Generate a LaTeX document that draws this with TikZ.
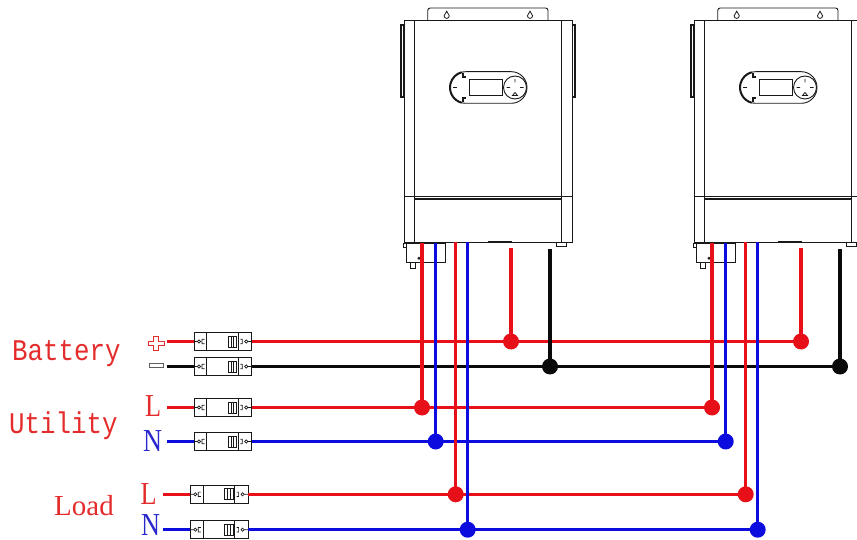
\documentclass[tikz,border=0pt]{standalone}
\usepackage{fontspec}
\setmainfont{Liberation Serif}
\newfontfamily\monolabel[FakeStretch=0.86]{Liberation Mono}
\newfontfamily\narrowserif[FakeStretch=0.82]{Liberation Serif}
\usetikzlibrary{calc}
\definecolor{wred}{RGB}{232,16,24}
\definecolor{wblue}{RGB}{12,12,222}
\definecolor{wblack}{RGB}{10,10,10}
\definecolor{tred}{RGB}{228,44,44}
\definecolor{tblue}{RGB}{40,40,205}
\definecolor{outline}{RGB}{25,25,25}

\tikzset{
  part/.style={draw=outline, line width=0.9pt},
  wire/.style={line width=3.3pt},
  joint/.style={circle, inner sep=0pt, minimum size=16pt},
  brk/.style={part, rectangle, fill=white, minimum width=57.4pt, minimum height=18pt, inner sep=0pt},
  sidelabel/.style={inner sep=0pt, anchor=base west, font=\monolabel\fontsize{30}{34}\selectfont, text=tred},
  letter/.style={inner sep=0pt, anchor=base west, font=\narrowserif\fontsize{32}{36}\selectfont},
  % circuit breaker: box, two terminals and the switch grille
  breaker/.pic={
    \node[brk] (-box) at (0,0) {};
    \draw[part] (-16.3,-9) -- (-16.3,9) (15.3,-9) -- (15.3,9);
    \draw[part, line width=0.7pt] (-28.7,0) -- (-25.6,0) (-24,0) circle (1.6)
      (-18.5,-2.2) -- (-21,-2.2) -- (-21,2.2) -- (-18.5,2.2);
    \draw[part, line width=0.7pt] (17.3,-2.2) -- (19.3,-2.2) -- (19.3,2.2) -- (17.3,2.2)
      (23.3,0) circle (1.6) (24.9,0) -- (28.7,0);
    \draw[part, line width=0.8pt] (5.3,-5.5) rectangle (13.7,5.5);
    \draw[part, line width=1pt] (8.1,-5.5) -- (8.1,5.5) (10.9,-5.5) -- (10.9,5.5);
  },
  % keyhole slot in the wall bracket
  keyhole/.pic={
    \draw[part, line width=0.8pt] (0,-3.8) -- (-2.6,0.8) arc (180:0:2.6) -- cycle;
  },
  % inverter seen from the front, origin on its vertical axis at the top edge of the page
  inverter/.pic={
    % wall bracket with two keyhole slots
    \draw[part, rounded corners=2.5pt] (-60.3,20.7) -- (-60.3,8) -- (60,8) -- (60,20.7);
    \pic at (-41.3,15) {keyhole};
    \pic at (42,15) {keyhole};
    % housing
    \draw[part, fill=white] (-84,20.7) rectangle (84,242);
    \draw[part] (-73.5,20.7) -- (-73.5,242) (73.5,20.7) -- (73.5,242);
    \draw[part, line width=0.6pt] (-84,196.5) -- (84,196.5);
    \draw[outline, line width=2.6pt] (-73.5,199) -- (73.5,199);
    % side handles
    \draw[part, line width=1.3pt] (-87,25) rectangle (-84.5,97);
    \draw[part, line width=1.3pt] (84.5,25) rectangle (87,97);
    % display panel
    \draw[part, rounded corners=15.7pt] (-38,71.7) rectangle (39,103.3);
    \draw[part] (-19,79) rectangle (14,95);
    \draw[part] (27,87.5) circle (11.5);
    \draw[part, line width=0.8pt] (27,79) -- (27,82.5) (18.5,87.5) -- (22,87.5)
      (32,87.5) -- (35.5,87.5) (24.5,95.5) -- (29.5,95.5) -- (27,92.5) -- cycle;
    \draw[outline, line width=2pt] ($(-22.2,87.5)+(105:15.8)$) arc (105:255:15.8);
    \draw[outline, line width=1.2pt] (-25,73) -- (-25,77) -- (-22.5,77)
      (-35,87.5) -- (-31,87.5) (-25,102) -- (-25,98) -- (-22.5,98);
    % base details and terminal block
    \draw[outline, line width=2pt] (0,242) -- (23.7,242);
    \draw[part, line width=0.7pt] (68.7,242) rectangle (78.7,246);
    \draw[part, fill=white] (-82,243) rectangle (-43,262);
    \draw[part, line width=0.7pt] (-85,243) rectangle (-82,247.5);
    \draw[part, line width=0.7pt] (-78,262) rectangle (-73,268);
    \fill[outline] (-69,258.3) circle (1.6);
    % cable exits
    \coordinate (-uL) at (-66,243);
    \coordinate (-uN) at (-52.3,243);
    \coordinate (-oL) at (-32.3,242);
    \coordinate (-oN) at (-20.3,242);
    \coordinate (-bP) at (23,248);
    \coordinate (-bM) at (62,249);
  }
}

\begin{document}
\begin{tikzpicture}[x=1pt, y=-1pt]
\useasboundingbox (0,0) rectangle (857,540);
\fill[white] (0,0) rectangle (857,540);

\begin{scope}
  \clip (0,0) rectangle (857,540);
  \pic (invA) at (488,0) {inverter};
  \pic (invB) at (778,0) {inverter};
\end{scope}

% labels
\node[sidelabel] (battery) at (12,360) {Battery};
\node[sidelabel] (utility) at (9,433) {Utility};
\node[inner sep=0pt, anchor=base west, font=\fontsize{29}{34}\selectfont, text=tred] (load) at (54,515) {Load};
\node[letter, text=tred] (utilL) at (145,416.7) {L};
\node[letter, text=tblue] (utilN) at (143,451) {N};
\node[letter, text=tred] (loadL) at (140.5,504) {L};
\node[letter, text=tblue] (loadN) at (141,535) {N};

% battery polarity marks
\draw[draw=tred, line width=0.9pt, fill=white] (153.5,336.7) -- (158.5,336.7) -- (158.5,341.2) -- (164,341.2)
  -- (164,345.5) -- (158.5,345.5) -- (158.5,350) -- (153.5,350) -- (153.5,345.5) -- (148,345.5)
  -- (148,341.2) -- (153.5,341.2) -- cycle;
\node[draw=outline!70, line width=0.9pt, minimum width=14pt, minimum height=3.8pt, inner sep=0pt] (minus) at (156,365.3) {};

% stub ends of the feeder cables
\coordinate (sBP) at (166.7,341.5);
\coordinate (sBM) at (166.7,366.5);
\coordinate (sUL) at (166.7,407.5);
\coordinate (sUN) at (166.7,441.5);
\coordinate (sOL) at (163,494.3);
\coordinate (sON) at (163,529.7);

% breakers
\pic (brBP) at (223,341.5) {breaker};
\pic (brBM) at (223,366.5) {breaker};
\pic (brUL) at (223,407.5) {breaker};
\pic (brUN) at (223,441.5) {breaker};
\pic (brOL) at (219.3,494.3) {breaker};
\pic (brON) at (219.3,529.7) {breaker};

% junction points on the bus lines
\node[joint] (jA1) at (511,341.5) {};
\node[joint] (jA2) at (550,366.5) {};
\node[joint] (jA3) at (422,407.5) {};
\node[joint] (jA4) at (435.7,441.5) {};
\node[joint] (jA5) at (455.7,494.3) {};
\node[joint] (jA6) at (467.7,529.7) {};
\node[joint] (jB1) at (801,341.5) {};
\node[joint] (jB2) at (840,366.5) {};
\node[joint] (jB3) at (712,407.5) {};
\node[joint] (jB4) at (725.7,441.5) {};
\node[joint] (jB5) at (745.7,494.3) {};
\node[joint] (jB6) at (757.7,529.7) {};

% feeder stubs into the breakers
\draw[wire, wred] (sBP) -- (brBP-box.west);
\draw[wire, wblack] (sBM) -- (brBM-box.west);
\draw[wire, wred] (sUL) -- (brUL-box.west);
\draw[wire, wblue] (sUN) -- (brUN-box.west);
\draw[wire, wred] (sOL) -- (brOL-box.west);
\draw[wire, wblue] (sON) -- (brON-box.west);

% bus lines
\draw[wire, wred] (brBP-box.east) -- (jB1.center);
\draw[wire, wblack] (brBM-box.east) -- (jB2.center);
\draw[wire, wred] (brUL-box.east) -- (jB3.center);
\draw[wire, wblue] (brUN-box.east) -- (jB4.center);
\draw[wire, wred] (brOL-box.east) -- (jB5.center);
\draw[wire, wblue] (brON-box.east) -- (jB6.center);

% drops from the inverters
\foreach \u in {A,B} {
  \draw[wire, wred] (inv\u-uL) -- (j\u3.center);
  \draw[wire, wblue] (inv\u-uN) -- (j\u4.center);
  \draw[wire, wred] (inv\u-oL) -- (j\u5.center);
  \draw[wire, wblue] (inv\u-oN) -- (j\u6.center);
  \draw[wire, wred] (inv\u-bP) -- (j\u1.center);
  \draw[wire, wblack] (inv\u-bM) -- (j\u2.center);
}

% junction dots
\foreach \u in {A,B} {
  \fill[wred] (j\u1) circle (8);
  \fill[wblack] (j\u2) circle (8);
  \fill[wred] (j\u3) circle (8);
  \fill[wblue] (j\u4) circle (8);
  \fill[wred] (j\u5) circle (8);
  \fill[wblue] (j\u6) circle (8);
}
\end{tikzpicture}
\end{document}
